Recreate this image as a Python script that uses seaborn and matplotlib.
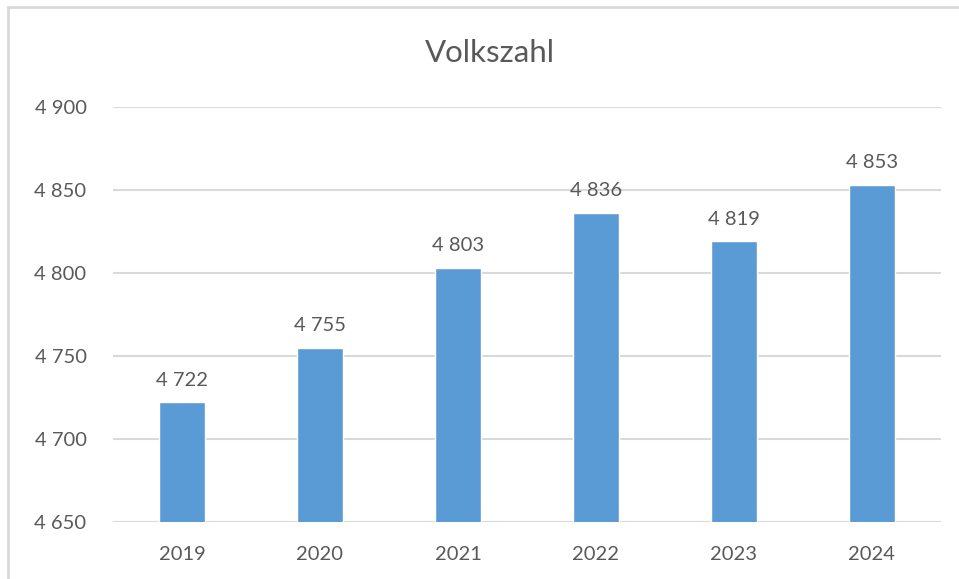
import pandas as pd
import matplotlib.pyplot as plt
import seaborn as sns
from matplotlib.patches import Rectangle
from matplotlib.ticker import FuncFormatter

# data
years = ['2019', '2020', '2021', '2022', '2023', '2024']
population = [4722, 4755, 4803, 4836, 4819, 4853]

df = pd.DataFrame({'year': years, 'population': population})

sns.set_theme(style="white")
plt.rcParams['font.family'] = ['Lato', 'DejaVu Sans']

grey = '#595959'

fig = plt.figure(figsize=(9.59, 5.79), dpi=100)
ax = fig.add_axes([0.1178, 0.0984, 0.8634, 0.7168])

sns.barplot(data=df, x='year', y='population', color='#5b9bd5', saturation=1,
            width=0.33, ax=ax, zorder=3)

ax.set_ylim(4650, 4900)
ax.set_yticks(range(4650, 4901, 50))
ax.yaxis.set_major_formatter(FuncFormatter(lambda v, p: f'{int(v):,}'.replace(',', ' ')))
ax.grid(axis='y', color='#d9d9d9', linewidth=1.5, zorder=0)
ax.grid(axis='x', visible=False)
for s in ax.spines.values():
    s.set_visible(False)

ax.tick_params(axis='y', length=0, pad=19, labelsize=14.5, labelcolor=grey)
ax.tick_params(axis='x', length=0, pad=17, labelsize=14.5, labelcolor=grey)
ax.set_xlabel('')
ax.set_ylabel('')

ax.bar_label(ax.containers[0], labels=[f'{v:,}'.replace(',', ' ') for v in population],
             padding=10, fontsize=14.5, color=grey)

fig.text(0.511, 0.908, 'Volkszahl', ha='center', va='center', fontsize=22.5, color=grey)

# light chart frame like the spreadsheet export
fig.patches.append(Rectangle((8 / 959, -0.1), 1.2, 0.1 + (1 - 7 / 579),
                             transform=fig.transFigure, fill=False,
                             edgecolor='#d9d9d9', linewidth=2))

fig.savefig('out.png', dpi=100)
